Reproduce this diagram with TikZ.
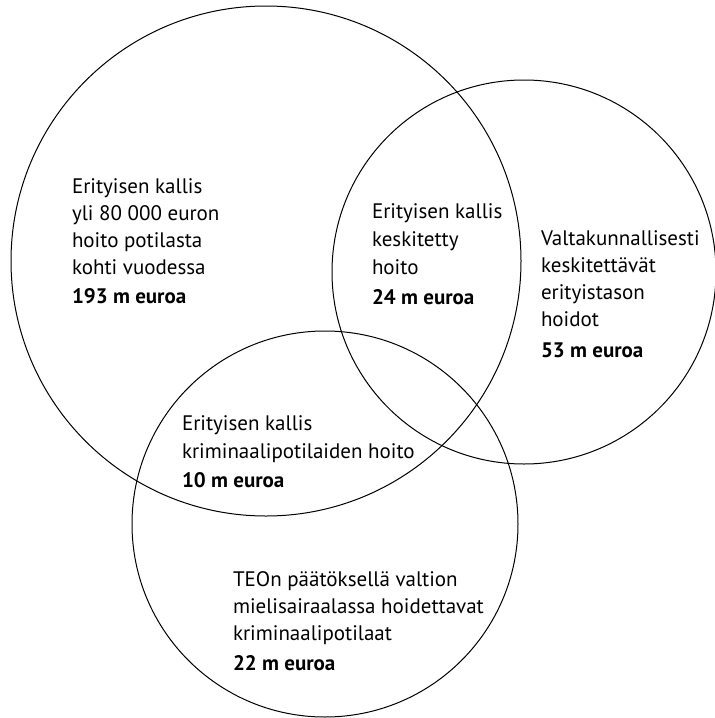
\documentclass[tikz,border=0pt]{standalone}
\usepackage{fontspec}
\setmainfont{PT Sans}
\begin{document}
\begin{tikzpicture}[x=1pt,y=-1pt,
  ring/.style={draw=black,line width=1pt,circle,inner sep=0pt,outer sep=0pt},
  lbl/.style={anchor=base west,inner sep=0pt,outer sep=0pt,font=\fontsize{21}{25}\selectfont},
  lblb/.style={lbl,font=\fontsize{21}{25}\selectfont\bfseries}]
\useasboundingbox[fill=white] (0,0) rectangle (715,718);
% circles
\node[ring,minimum size=510pt] (cbig) at (266,261) {};
\node[ring,minimum size=384pt] (cright) at (524,272) {};
\node[ring,minimum size=386pt] (cbottom) at (325,524) {};
% block 1
\node[lbl] (a1) at (72,193) {Erityisen kallis};
\node[lbl] (a2) at (72,220) {yli 80 000 euron};
\node[lbl] (a3) at (72,247) {hoito potilasta};
\node[lbl] (a4) at (72,274) {kohti vuodessa};
\node[lblb] (a5) at (72,303) {193 m euroa};
% block 2
\node[lbl] (b1) at (372,218) {Erityisen kallis};
\node[lbl] (b2) at (372,246) {keskitetty};
\node[lbl] (b3) at (372,274) {hoito};
\node[lblb] (b4) at (372,304) {24 m euroa};
% block 3
\node[lbl] (c1) at (541,245) {Valtakunnallisesti};
\node[lbl] (c2) at (541,272) {keskitettävät};
\node[lbl] (c3) at (541,299) {erityistason};
\node[lbl] (c4) at (541,326) {hoidot};
\node[lblb] (c5) at (541,357) {53 m euroa};
% block 4
\node[lbl] (d1) at (182,430) {Erityisen kallis};
\node[lbl] (d2) at (182,458) {kriminaalipotilaiden hoito};
\node[lblb] (d3) at (182,487) {10 m euroa};
% block 5
\node[lbl] (e1) at (233,586) {TEOn päätöksellä valtion};
\node[lbl] (e2) at (233,613) {mielisairaalassa hoidettavat};
\node[lbl] (e3) at (233,640) {kriminaalipotilaat};
\node[lblb] (e4) at (233,670) {22 m euroa};
\end{tikzpicture}
\end{document}
